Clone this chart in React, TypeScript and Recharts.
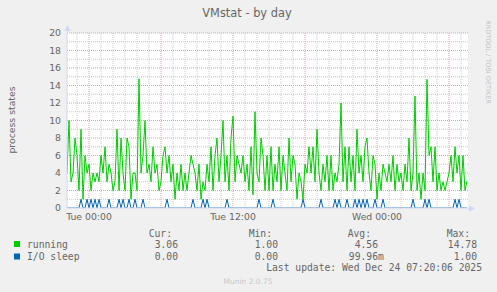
import { LineChart, Line, XAxis, YAxis, ReferenceLine } from "recharts";

// samples every 10 minutes, minutes counted from Tue 00:00
const START_MIN = -110;
const STEP_MIN = 10;

const RUNNING = [
  4, 10, 3, 4, 8, 6, 2, 9, 1, 6, 4, 5, 2, 4, 3, 4, 3, 6, 4, 7,
  3, 5, 4, 2, 3, 9, 2, 8, 4, 2, 8, 7, 1, 4, 4, 2, 14.78, 4, 6, 10,
  4, 5, 3, 7, 4, 5, 2, 3, 6, 7, 4, 6, 3, 5, 1, 4, 2, 5, 2, 4,
  2, 4, 6, 5, 4, 2, 5, 1, 3, 2, 5, 3, 7, 2, 6, 8, 3, 6, 10, 3,
  6, 2, 8, 10.5, 3, 6, 5, 4, 6, 3, 5, 2, 7, 1.5, 11, 4, 3, 8, 6, 2,
  6, 2, 7, 2, 5, 3, 7, 2, 6, 4, 2, 8, 3, 6, 5, 1, 4, 3, 1, 5,
  4, 7, 4, 7, 3, 9, 4, 2, 5, 3, 6, 2, 6, 2, 4, 3, 5, 12, 3, 7,
  2, 7, 3, 6, 2, 9, 4, 6, 3, 7, 8, 4, 2, 6, 5, 1, 4, 2, 5, 4,
  3, 5, 3, 6, 2, 5, 3, 4, 2, 5, 3, 8, 2, 4, 12.8, 2, 4, 1, 4, 2,
  14.7, 6, 7, 3, 7, 2, 4, 2, 3, 2, 3, 4, 6, 3, 7, 4, 6, 2, 6, 2,
  3.06,
];

const IO_SLEEP = [
  0, 0, 0, 0, 0, 0, 0, 1, 0, 0, 1, 0, 1, 0, 1, 0, 1, 0, 0, 0,
  0, 1, 0, 0, 0, 0, 1, 0, 1, 0, 0, 1, 0, 0, 1, 0, 0, 0, 1, 0,
  0, 0, 0, 0, 0, 0, 0, 0, 0, 0, 1, 0, 0, 0, 0, 0, 0, 0, 0, 0,
  0, 0, 0, 1, 0, 0, 0, 0, 1, 0, 1, 0, 0, 0, 0, 0, 0, 0, 0, 0,
  1, 0, 0, 0, 0, 0, 0, 0, 0, 0, 0, 0, 0, 0, 0, 0, 1, 0, 0, 0,
  0, 0, 0, 1, 0, 0, 0, 0, 0, 0, 0, 0, 0, 0, 0, 0, 0, 0, 1, 0,
  0, 0, 0, 0, 0, 0, 0, 1, 0, 0, 0, 0, 0, 0, 1, 0, 1, 0, 0, 0,
  1, 0, 0, 0, 1, 0, 1, 0, 1, 0, 1, 0, 0, 0, 1, 0, 0, 0, 1, 0,
  0, 0, 0, 0, 0, 0, 0, 0, 0, 0, 0, 0, 0, 1, 0, 0, 0, 0, 0, 1,
  0, 1, 0, 0, 0, 0, 0, 0, 0, 0, 0, 0, 0, 0, 1, 0, 1, 0, 0, 0,
  0,
];

const X_TICKS = [0, 720, 1440];
const X_LABELS = ["Tue 00:00", "Tue 12:00", "Wed 00:00"];
const Y_TICKS = [0, 2, 4, 6, 8, 10, 12, 14, 16, 18, 20];

const SERIES_NAMES = ["running", "I/O sleep"];
const SERIES_COLORS = ["#00CC00", "#0066B3"];
const CUR = ["3.06", "0.00"];
const MIN = ["1.00", "0.00"];
const AVG = ["4.56", "99.96m"];
const MAX = ["14.78", "1.00"];

const data = RUNNING.map((v, i) => ({
  t: START_MIN + i * STEP_MIN,
  running: v,
  io: IO_SLEEP[i],
}));

const hourLines: number[] = [];
for (let m = -60; m <= 1860; m += 60) hourLines.push(m);
const unitLines: number[] = [];
for (let v = 1; v <= 20; v++) unitLines.push(v);

const FONT = "'DejaVu Sans', sans-serif";
const MONO = "'DejaVu Sans Mono', monospace";
const TXT = "#666666";

function Val({ x, y, s }: { x: number; y: number; s: string }) {
  const unit = /[a-zA-Z]$/.test(s) ? s.slice(-1) : "";
  const num = unit ? s.slice(0, -1) : s;
  return (
    <>
      <text x={x} y={y} textAnchor="end">{num}</text>
      {unit && <text x={x} y={y}>{unit}</text>}
    </>
  );
}

export default function App() {
  return (
    <div style={{ position: "absolute", left: 0, top: 0, width: 497, height: 292, background: "#F0F0F0" }}>
      <div style={{ position: "absolute", left: 67, top: 33, width: 401, height: 175, background: "#FFFFFF" }} />
      <div style={{ position: "absolute", left: 0, top: 0 }}>
        <LineChart width={497} height={292} data={data} margin={{ top: 33, right: 29, bottom: 64, left: 37 }}>
          {hourLines.map((m) => (
            <ReferenceLine key={"h" + m} x={m} stroke={m % 360 === 0 ? "#EE9A9A" : "#C8C8C8"} strokeDasharray="1 1" />
          ))}
          {unitLines.map((v) => (
            <ReferenceLine key={"v" + v} y={v} stroke={v % 2 === 0 ? "#EE9A9A" : "#C8C8C8"} strokeDasharray="1 1" />
          ))}
          <XAxis
            type="number"
            dataKey="t"
            domain={[-110, 1895]}
            ticks={X_TICKS}
            tickFormatter={(v: number) => X_LABELS[X_TICKS.indexOf(v)] ?? ""}
            height={20}
            tickLine={false}
            tickSize={0}
            tickMargin={5}
            axisLine={{ stroke: "#CFD6F8" }}
            tick={{ fill: TXT, fontSize: 9.3, fontFamily: FONT }}
            allowDataOverflow
          />
          <YAxis
            type="number"
            domain={[0, 20]}
            ticks={Y_TICKS}
            width={30}
            tickLine={false}
            tickSize={0}
            tickMargin={6}
            axisLine={{ stroke: "#CFD6F8" }}
            tick={{ fill: TXT, fontSize: 9.3, fontFamily: FONT }}
            allowDataOverflow
          />
          <Line dataKey="running" stroke="#00CC00" strokeWidth={1} dot={false} isAnimationActive={false} type="linear" />
          <Line dataKey="io" stroke="#0066B3" strokeWidth={1} dot={false} isAnimationActive={false} type="linear" />
        </LineChart>
      </div>
      <svg width={497} height={292} style={{ position: "absolute", left: 0, top: 0, pointerEvents: "none" }}>
        <line x1={67.5} y1={33} x2={67.5} y2={28} stroke="#CFD6F8" />
        <polygon points="67.5,25 64.5,31 70.5,31" fill="#CFD6F8" />
        <line x1={468} y1={208.5} x2={472} y2={208.5} stroke="#CFD6F8" />
        <polygon points="475,208.5 469,205.5 469,211.5" fill="#CFD6F8" />
        <text x={247} y={17} textAnchor="middle" fill={TXT} fontFamily={FONT} fontSize={11.4}>
          VMstat - by day
        </text>
        <text x={15} y={120} textAnchor="middle" fill={TXT} fontFamily={FONT} fontSize={9.3} transform="rotate(-90 15 120)">
          process states
        </text>
        <text x={486} y={62} textAnchor="middle" fill="#C4C4C4" fontFamily={FONT} fontSize={6.5} transform="rotate(90 486 62)">
          RRDTOOL / TOBI OETIKER
        </text>
        <g fill={TXT} fontFamily={MONO} fontSize={9.7}>
          <text x={172} y={237} textAnchor="end">Cur:</text>
          <text x={272} y={237} textAnchor="end">Min:</text>
          <text x={371} y={237} textAnchor="end">Avg:</text>
          <text x={470} y={237} textAnchor="end">Max:</text>
          {SERIES_NAMES.map((name, i) => {
            const y = 247.5 + i * 12.5;
            return (
              <g key={name}>
                <rect x={14} y={y - 6.5} width={6} height={6} fill={SERIES_COLORS[i]} />
                <text x={27} y={y}>{name}</text>
                <Val x={178} y={y} s={CUR[i]} />
                <Val x={278} y={y} s={MIN[i]} />
                <Val x={378} y={y} s={AVG[i]} />
                <Val x={477} y={y} s={MAX[i]} />
              </g>
            );
          })}
          <text x={482} y={271} textAnchor="end">Last update: Wed Dec 24 07:20:06 2025</text>
        </g>
        <text x={248} y={284} textAnchor="middle" fill="#C8C8C8" fontFamily={FONT} fontSize={7.5}>
          Munin 2.0.75
        </text>
      </svg>
    </div>
  );
}
